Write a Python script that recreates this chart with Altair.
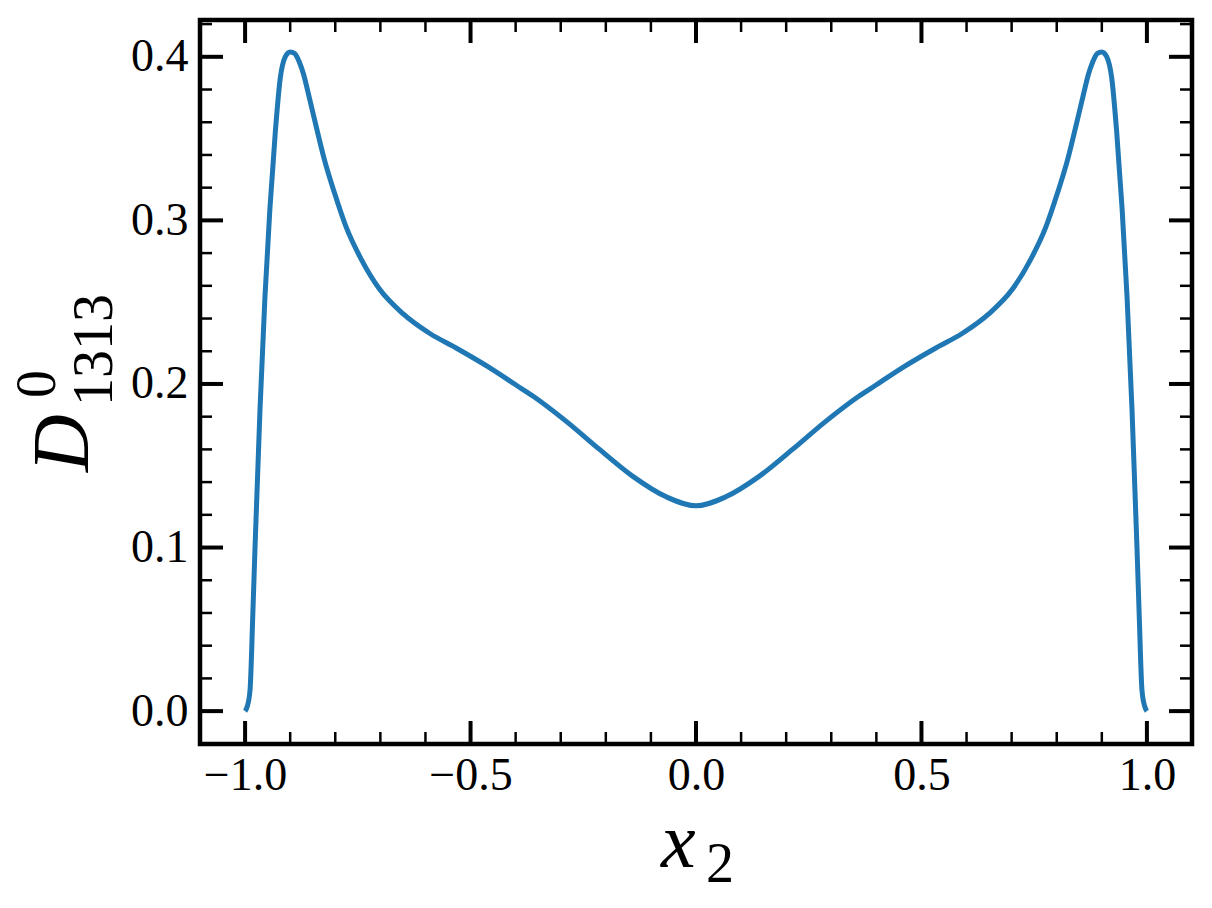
import altair as alt
import pandas as pd

# ---- data ----
x2_values = [
    -1.000, -0.995, -0.989, -0.983, -0.978, -0.967, -0.956, -0.945, -0.933, -0.922,
    -0.911, -0.900, -0.890, -0.880, -0.870, -0.861, -0.842, -0.824, -0.802, -0.776,
    -0.742, -0.702, -0.650, -0.591, -0.532, -0.458, -0.400, -0.361, -0.287, -0.214,
    -0.140, -0.066,
    0.000,
    0.066, 0.140, 0.214, 0.287, 0.361, 0.400, 0.458, 0.532, 0.591, 0.650,
    0.702, 0.742, 0.776, 0.802, 0.824, 0.842, 0.861, 0.870, 0.880, 0.890,
    0.900, 0.911, 0.922, 0.933, 0.945, 0.956, 0.967, 0.978, 0.983, 0.989,
    0.995, 1.000,
]
d_values = [
    0.000, 0.003, 0.013, 0.058, 0.100, 0.184, 0.253, 0.307, 0.354, 0.387,
    0.400, 0.403, 0.402, 0.397, 0.389, 0.379, 0.357, 0.337, 0.317, 0.296,
    0.276, 0.258, 0.243, 0.231, 0.222, 0.210, 0.1995, 0.1925, 0.177, 0.160,
    0.1435, 0.131,
    0.1255,
    0.131, 0.1435, 0.160, 0.177, 0.1925, 0.1995, 0.210, 0.222, 0.231, 0.243,
    0.258, 0.276, 0.296, 0.317, 0.337, 0.357, 0.379, 0.389, 0.397, 0.402,
    0.403, 0.400, 0.387, 0.354, 0.307, 0.253, 0.184, 0.100, 0.058, 0.013,
    0.003, 0.000,
]

x_major = [-1.0, -0.5, 0.0, 0.5, 1.0]
x_minor = [-0.9, -0.8, -0.7, -0.6, -0.4, -0.3, -0.2, -0.1,
           0.1, 0.2, 0.3, 0.4, 0.6, 0.7, 0.8, 0.9]
y_major = [0.0, 0.1, 0.2, 0.3, 0.4]
y_minor = [0.02, 0.04, 0.06, 0.08, 0.12, 0.14, 0.16, 0.18, 0.22, 0.24,
           0.26, 0.28, 0.32, 0.34, 0.36, 0.38, 0.42]

x_title_main = ["x"]
x_title_sub = ["2"]
y_title_main = ["D"]
y_title_sup = ["0"]
y_title_sub = ["1313"]

x_domain = [-1.1, 1.1]
y_domain = [-0.0201, 0.4225]

W, H = 992, 724
SERIF = "Liberation Serif"
MAJ_LEN, MIN_LEN = 23, 12

xs = alt.Scale(domain=x_domain, nice=False, zero=False)
ys = alt.Scale(domain=y_domain, nice=False, zero=False)

x_axis = alt.Axis(
    values=x_major, format=".1f", title=None, ticks=False, tickSize=0,
    domain=False, grid=False, labelFont=SERIF, labelFontSize=46,
    labelColor="black", labelPadding=9)
y_axis = alt.Axis(
    values=y_major, format=".1f", title=None, ticks=False, tickSize=0,
    domain=False, grid=False, labelFont=SERIF, labelFontSize=46,
    labelColor="black", labelPadding=12)

df = pd.DataFrame({"x": x2_values, "y": d_values})

line = alt.Chart(df).mark_line(
    color="#1f77b4", strokeWidth=5, interpolate="monotone"
).encode(
    x=alt.X("x:Q", scale=xs, axis=x_axis),
    y=alt.Y("y:Q", scale=ys, axis=y_axis),
)


def xticks(vals, length, width):
    d = pd.DataFrame({"x": vals})
    bottom = alt.Chart(d).mark_rule(color="black", strokeWidth=width).encode(
        x=alt.X("x:Q", scale=xs, axis=x_axis),
        y=alt.value(H), y2=alt.value(H - length))
    top = alt.Chart(d).mark_rule(color="black", strokeWidth=width).encode(
        x=alt.X("x:Q", scale=xs, axis=x_axis),
        y=alt.value(0), y2=alt.value(length))
    return [bottom, top]


def yticks(vals, length, width):
    d = pd.DataFrame({"y": vals})
    left = alt.Chart(d).mark_rule(color="black", strokeWidth=width).encode(
        y=alt.Y("y:Q", scale=ys, axis=y_axis),
        x=alt.value(0), x2=alt.value(length))
    right = alt.Chart(d).mark_rule(color="black", strokeWidth=width).encode(
        y=alt.Y("y:Q", scale=ys, axis=y_axis),
        x=alt.value(W), x2=alt.value(W - length))
    return [left, right]


ticks = (xticks(x_major, MAJ_LEN, 4) + xticks(x_minor, MIN_LEN, 2.5)
         + yticks(y_major, MAJ_LEN, 4) + yticks(y_minor, MIN_LEN, 2.5))


def label(texts, px, py, size, angle=0, italic=False):
    d = pd.DataFrame({"s": texts})
    kw = dict(font=SERIF, fontSize=size, color="black", align="left",
              baseline="alphabetic", angle=angle)
    if italic:
        kw["fontStyle"] = "italic"
    return alt.Chart(d).mark_text(**kw).encode(
        text="s:N", x=alt.value(px), y=alt.value(py))


titles = [
    label(x_title_main, 461, 847, 78, italic=True),
    label(x_title_sub, 506, 862, 56),
    label(y_title_main, -112, 452, 80, angle=270, italic=True),
    label(y_title_sup, -145, 378, 56, angle=270),
    label(y_title_sub, -88, 386, 56, angle=270),
]

chart = alt.layer(line, *ticks, *titles).properties(
    width=W, height=H,
    padding={"left": 192, "top": 12, "right": 12, "bottom": 156},
    autosize=alt.AutoSizeParams(type="none"),
    background="white",
).configure_view(
    stroke="black", strokeWidth=4.5, fill="white"
)

chart.save("out.html", embed_options={"renderer": "svg", "actions": False})
